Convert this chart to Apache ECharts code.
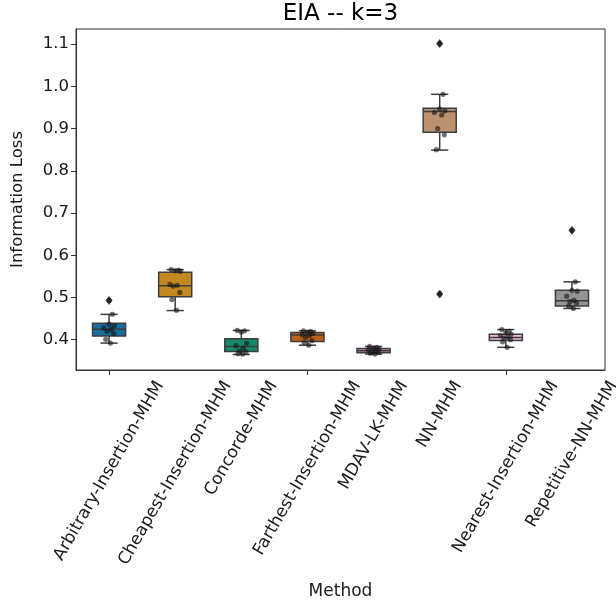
<!DOCTYPE html>
<html>
<head>
<meta charset="utf-8">
<script src="https://cdn.jsdelivr.net/npm/echarts@6/dist/echarts.min.js"></script>
<style>
  html, body { margin: 0; padding: 0; background: #fff; }
  #chart { width: 616px; height: 606px; }
</style>
</head>
<body>
<div id="chart"></div>
<script>
// Methods compared on the x axis
const methods = [
  'Arbitrary-Insertion-MHM', 'Cheapest-Insertion-MHM', 'Concorde-MHM',
  'Farthest-Insertion-MHM', 'MDAV-LK-MHM', 'NN-MHM',
  'Nearest-Insertion-MHM', 'Repetitive-NN-MHM'
];

// Box summary per method
const whiskerLow  = [0.392, 0.469, 0.365, 0.387, 0.366, 0.849, 0.382, 0.474];
const q1          = [0.409, 0.502, 0.372, 0.396, 0.369, 0.891, 0.398, 0.480];
const medians     = [0.425, 0.528, 0.384, 0.411, 0.374, 0.940, 0.405, 0.492];
const q3          = [0.439, 0.560, 0.402, 0.417, 0.379, 0.948, 0.413, 0.517];
const whiskerHigh = [0.460, 0.566, 0.422, 0.421, 0.384, 0.981, 0.424, 0.537];
const outliers    = [[0.493], [], [], [], [], [1.101, 0.508], [], [0.659]];

// Individual runs per method
const runs = [
  [0.493, 0.460, 0.437, 0.433, 0.428, 0.425, 0.420, 0.415, 0.401, 0.392],
  [0.566, 0.565, 0.563, 0.562, 0.531, 0.529, 0.527, 0.512, 0.495, 0.470],
  [0.422, 0.421, 0.418, 0.392, 0.386, 0.380, 0.373, 0.371, 0.367, 0.366],
  [0.421, 0.420, 0.418, 0.415, 0.412, 0.410, 0.406, 0.398, 0.393, 0.387],
  [0.384, 0.382, 0.380, 0.378, 0.376, 0.374, 0.372, 0.370, 0.368, 0.366],
  [1.101, 0.981, 0.946, 0.942, 0.938, 0.932, 0.900, 0.885, 0.850, 0.508],
  [0.424, 0.420, 0.416, 0.413, 0.410, 0.406, 0.404, 0.400, 0.395, 0.382],
  [0.659, 0.537, 0.517, 0.515, 0.503, 0.493, 0.490, 0.487, 0.480, 0.474]
];

const yTicks = [0.4, 0.5, 0.6, 0.7, 0.8, 0.9, 1.0, 1.1];
const yMin = 0.3283;
const yMax = 1.1356;

// Styling
const boxColors = ['#176d9c', '#c38920', '#158a69', '#ba611b', '#c283b6', '#bd926e', '#f2b8e0', '#949494'];
const lineColor = '#3d3d3d';
const textColor = '#1a1a1a';
const FONT = '"DejaVu Sans", "Liberation Sans", sans-serif';
const LABEL_SIZE = 17;
const JITTER = [-0.06, 0.05, 0.0, 0.08, -0.08, 0.03, -0.03, 0.07, -0.05, 0.02, -0.01];

const measureCtx = document.createElement('canvas').getContext('2d');
measureCtx.font = LABEL_SIZE + 'px ' + FONT;

function renderBox(params, api) {
  const i = api.value(0);
  const band = api.size([1, 0])[0];
  const cx = api.coord([i, 0])[0];
  const yLo = api.coord([i, api.value(1)])[1];
  const yQ1 = api.coord([i, api.value(2)])[1];
  const yMed = api.coord([i, api.value(3)])[1];
  const yQ3 = api.coord([i, api.value(4)])[1];
  const yHi = api.coord([i, api.value(5)])[1];
  const bw = band * 0.5;
  const cw = band * 0.26;
  const ls = { stroke: lineColor, lineWidth: 1.5 };
  return {
    type: 'group',
    children: [
      { type: 'line', shape: { x1: cx, y1: yQ3, x2: cx, y2: yHi }, style: ls },
      { type: 'line', shape: { x1: cx, y1: yQ1, x2: cx, y2: yLo }, style: ls },
      { type: 'line', shape: { x1: cx - cw / 2, y1: yHi, x2: cx + cw / 2, y2: yHi }, style: ls },
      { type: 'line', shape: { x1: cx - cw / 2, y1: yLo, x2: cx + cw / 2, y2: yLo }, style: ls },
      { type: 'rect', shape: { x: cx - bw / 2, y: yQ3, width: bw, height: yQ1 - yQ3 },
        style: { fill: boxColors[i], stroke: lineColor, lineWidth: 1.5 } },
      { type: 'line', shape: { x1: cx - bw / 2, y1: yMed, x2: cx + bw / 2, y2: yMed }, style: ls }
    ]
  };
}

function renderFlier(params, api) {
  const p = api.coord([api.value(0), api.value(1)]);
  const w = 3, h = 4;
  return {
    type: 'polygon',
    shape: { points: [[p[0], p[1] - h], [p[0] + w, p[1]], [p[0], p[1] + h], [p[0] - w, p[1]]] },
    style: { fill: lineColor, stroke: lineColor, lineWidth: 0.8 }
  };
}

function renderRun(params, api) {
  const i = api.value(0);
  const v = api.value(1);
  const k = api.value(2);
  const band = api.size([1, 0])[0];
  const p = api.coord([i, v]);
  // runs beyond the whiskers sit on their flier marker
  const isFlier = outliers[i].indexOf(v) >= 0;
  const dx = isFlier ? 0 : JITTER[k % JITTER.length] * band;
  return {
    type: 'circle',
    shape: { cx: p[0] + dx, cy: p[1], r: 2.6 },
    style: { fill: 'rgba(20,20,20,0.6)' }
  };
}

// Category labels rotated 60 degrees, bounding box centred under each tick
function renderXLabel(params, api) {
  const i = api.value(0);
  const p = api.coord([i, yMin]);
  const text = methods[i];
  const L = measureCtx.measureText(text).width;
  const h = 18;
  const ang = Math.PI / 3;
  const H = L * Math.sin(ang) + h * Math.cos(ang);
  return {
    type: 'text',
    x: p[0],
    y: p[1] + 8 + H / 2,
    rotation: ang,
    style: {
      text: text, fill: textColor, font: LABEL_SIZE + 'px ' + FONT,
      align: 'center', verticalAlign: 'middle'
    }
  };
}

const boxData = methods.map((m, i) => [i, whiskerLow[i], q1[i], medians[i], q3[i], whiskerHigh[i]]);
const flierData = [];
outliers.forEach((arr, i) => arr.forEach(v => flierData.push([i, v])));
const runData = [];
runs.forEach((arr, i) => arr.forEach((v, k) => runData.push([i, v, k])));
const labelData = methods.map((m, i) => [i, yMin]);

const chart = echarts.init(document.getElementById('chart'), null, { renderer: 'canvas' });
chart.setOption({
  animation: false,
  backgroundColor: '#fff',
  textStyle: { fontFamily: FONT },
  grid: {
    left: 76, right: 11, top: 29, bottom: 236,
    show: true, borderColor: '#333', borderWidth: 1, backgroundColor: 'transparent'
  },
  graphic: [
    { type: 'text', x: 340.5, y: 14,
      style: { text: 'EIA -- k=3', font: '23px ' + FONT, fill: '#000', align: 'center', verticalAlign: 'middle' } },
    { type: 'text', x: 340.5, y: 592,
      style: { text: 'Method', font: '17px ' + FONT, fill: textColor, align: 'center', verticalAlign: 'middle' } }
  ],
  xAxis: {
    type: 'category',
    data: methods,
    axisLine: { show: true, lineStyle: { color: '#333', width: 1 } },
    axisTick: { show: true, alignWithLabel: true, length: 5, lineStyle: { color: '#333' } },
    axisLabel: { show: false },
    splitLine: { show: false }
  },
  yAxis: {
    type: 'value',
    min: yMin,
    max: yMax,
    name: 'Information Loss',
    nameLocation: 'middle',
    nameGap: 50,
    nameRotate: 90,
    nameTextStyle: { fontSize: 16.5, color: textColor, fontFamily: FONT },
    axisLine: { show: true, lineStyle: { color: '#333', width: 1 } },
    axisTick: { show: true, length: 5, lineStyle: { color: '#333' }, customValues: yTicks },
    axisLabel: {
      fontSize: 16.5, color: textColor, fontFamily: FONT, margin: 7,
      customValues: yTicks,
      formatter: v => v.toFixed(1)
    },
    splitLine: { show: false }
  },
  series: [
    { type: 'custom', name: 'box', renderItem: renderBox, data: boxData,
      encode: { x: 0, y: [1, 2, 3, 4, 5] }, z: 2 },
    { type: 'custom', name: 'fliers', renderItem: renderFlier, data: flierData,
      encode: { x: 0, y: 1 }, z: 3 },
    { type: 'custom', name: 'runs', renderItem: renderRun, data: runData,
      encode: { x: 0, y: 1 }, z: 4 },
    { type: 'custom', name: 'xlabels', renderItem: renderXLabel, data: labelData,
      encode: { x: 0, y: 1 }, clip: false, silent: true, z: 5 }
  ]
});
</script>
</body>
</html>
